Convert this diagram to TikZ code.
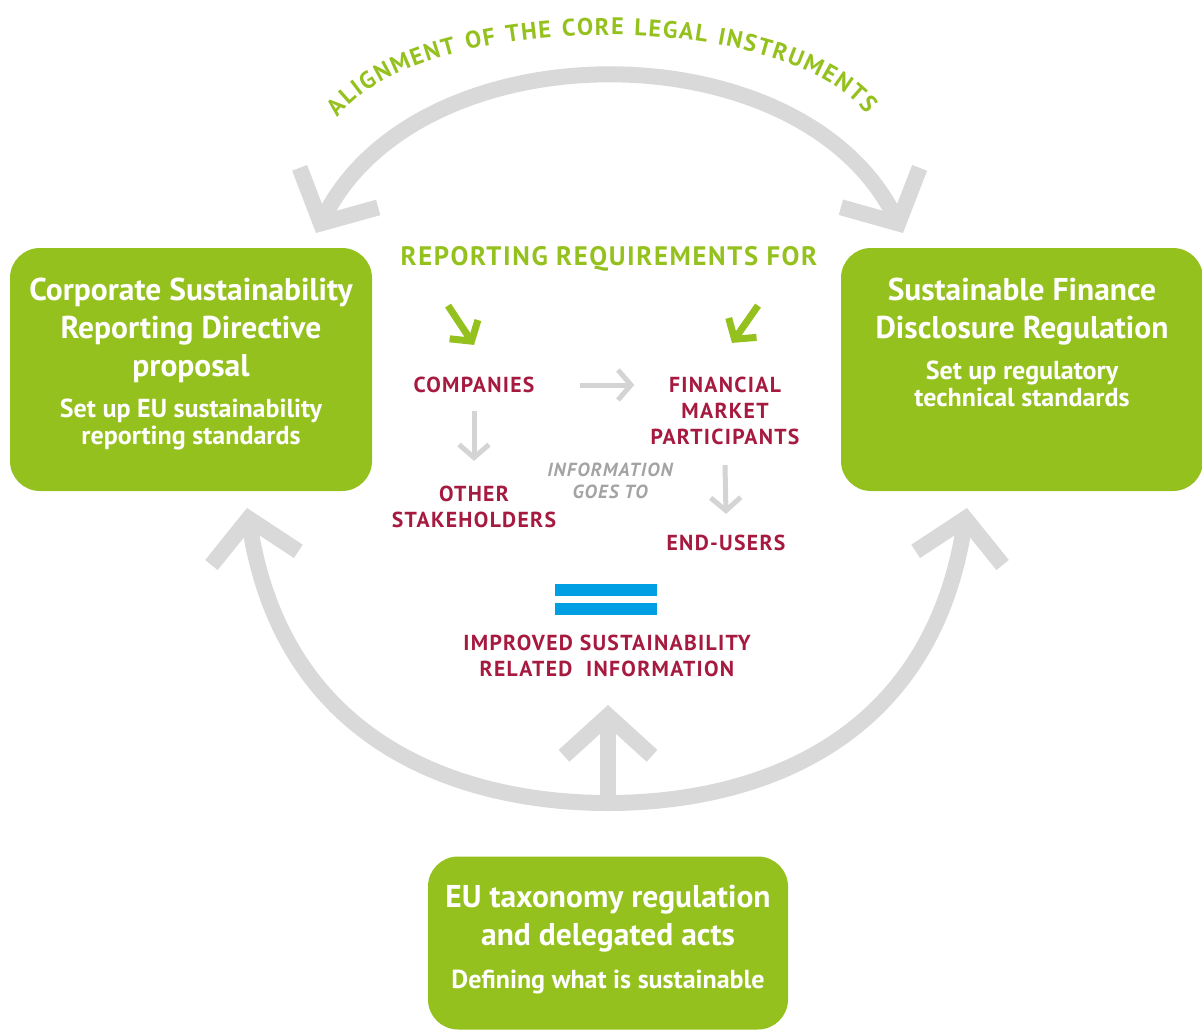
\documentclass[tikz,border=0pt]{standalone}
\usepackage{fontspec}
\setmainfont{PT Sans}
\newfontfamily\boxfont{PT Sans}
\newfontfamily\capsfont{PT Sans}[LetterSpace=6]
\usetikzlibrary{arrows.meta, positioning, decorations.text}

\definecolor{leafgreen}{HTML}{95C11F}
\definecolor{labelred}{HTML}{A61A40}
\definecolor{loopgray}{HTML}{D9D9D9}
\definecolor{flowgray}{HTML}{D4D4D4}
\definecolor{notegray}{HTML}{A3A3A3}
\definecolor{eqblue}{HTML}{009FE3}

\newcommand\alignfont{\capsfont\bfseries\fontsize{24}{28}\selectfont}

\tikzset{
    bigbarb/.tip={Straight Barb[length=40pt, width=88pt]},
    smallbarb/.tip={Straight Barb[length=13pt, width=30pt]},
    greenbarb/.tip={Straight Barb[length=14pt, width=34pt]}
}

\begin{document}
\begin{tikzpicture}[
    x=1pt, y=-1pt,
    greenbox/.style={rectangle, fill=leafgreen, rounded corners=30pt, inner sep=0pt, minimum width=362pt, minimum height=243pt},
    boxtitle/.style={text=white, align=center, inner sep=0pt, anchor=north, font=\boxfont\bfseries\fontsize{31.5}{38}\selectfont},
    boxsub/.style={text=white, align=center, inner sep=0pt, font=\boxfont\bfseries\fontsize{26}{27}\selectfont},
    redlabel/.style={text=labelred, align=center, inner sep=0pt, font=\capsfont\bfseries\fontsize{21.7}{26}\selectfont},
    greenhead/.style={text=leafgreen, inner sep=0pt, font=\capsfont\bfseries\fontsize{26.7}{30}\selectfont},
    infonote/.style={text=notegray, align=center, inner sep=0pt, font=\capsfont\bfseries\itshape\fontsize{19}{22}\selectfont},
    bigloop/.style={draw=loopgray, line width=16pt},
    flowarrow/.style={draw=flowgray, line width=5pt, -smallbarb},
    greenarrow/.style={draw=leafgreen, line width=7pt, -greenbarb},
    eqbar/.style={fill=eqblue, minimum width=102pt, minimum height=12pt, inner sep=0pt}
]
\useasboundingbox (0,0) rectangle (1202,1030);

% the three instruments
\node[greenbox] (csrd) at (191,369.5) {};
\node[greenbox] (sfdr) at (1022,369.5) {};
\node[greenbox, minimum width=360pt, minimum height=173pt] (taxo) at (608,943) {};

\node[boxtitle] (csrdtitle) at (191,278) {Corporate Sustainability\\Reporting Directive\\proposal};
\node[boxsub, below=16pt of csrdtitle] (csrdsub) {Set up EU sustainability\\reporting standards};

\node[boxtitle] (sfdrtitle) at (1022,278) {Sustainable Finance\\Disclosure Regulation};
\node[boxsub, below=15pt of sfdrtitle] (sfdrsub) {Set up regulatory\\technical standards};

\node[boxtitle] (taxotitle) at (608,885) {EU taxonomy regulation\\and delegated acts};
\node[boxsub, below=17pt of taxotitle] (taxosub) {Defining what is sustainable};

% reporting requirements in the middle
\node[greenhead] (header) at (609,259) {REPORTING REQUIREMENTS FOR};
\node[redlabel] (companies) at (474,385) {COMPANIES};
\node[redlabel] (fmp) at (725,411) {FINANCIAL\\MARKET\\PARTICIPANTS};
\node[redlabel] (others) at (474,507) {OTHER\\STAKEHOLDERS};
\node[redlabel] (endusers) at (726,543) {END-USERS};
\node[infonote] (goesto) at (610,481) {INFORMATION\\GOES TO};

\node[eqbar] (eqtop) at (606,590) {};
\node[eqbar, below=7pt of eqtop] (eqbot) {};
\node[redlabel] (improved) at (607,656) {IMPROVED SUSTAINABILITY\\RELATED\ \ INFORMATION};

\draw[greenarrow] ([xshift=-161pt, yshift=-34pt]header.south) -- ([yshift=32pt]companies.north);
\draw[greenarrow] ([xshift=149pt, yshift=-34pt]header.south) -- ([xshift=7pt, yshift=34pt]fmp.north);

\draw[flowarrow] ([xshift=45pt]companies.east) -- ([xshift=-16pt]companies.east -| fmp.west);
\draw[flowarrow] ([yshift=-18pt]companies.south) -- ([yshift=25pt]others.north);
\draw[flowarrow] ([yshift=-20pt]fmp.south) -- ([yshift=21pt]endusers.north);

% alignment loop on top
\coordinate (tlend) at (316,233);
\coordinate (trend) at (903,233);
\draw[bigloop, bigbarb-bigbarb] (tlend) .. controls (420,27) and (800,27) .. (trend);
\path[decorate, decoration={text along path, text align={fit to path}, text color=leafgreen,
    text={|\alignfont|ALIGNMENT OF THE CORE LEGAL INSTRUMENTS}}]
    (338,118) .. controls (420,8) and (786,8) .. (866,114);

% taxonomy loop below
\coordinate (blend) at (247,508);
\coordinate (brend) at (967,508);
\coordinate (lowpt) at (608,803);
\coordinate (uptip) at (608,705);
\draw[bigloop, bigbarb-bigbarb] (blend) .. controls (285,750) and (470,803) .. (lowpt)
    .. controls (746,803) and (929,750) .. (brend);
\draw[bigloop, -bigbarb] (lowpt) -- (uptip);

\end{tikzpicture}
\end{document}
